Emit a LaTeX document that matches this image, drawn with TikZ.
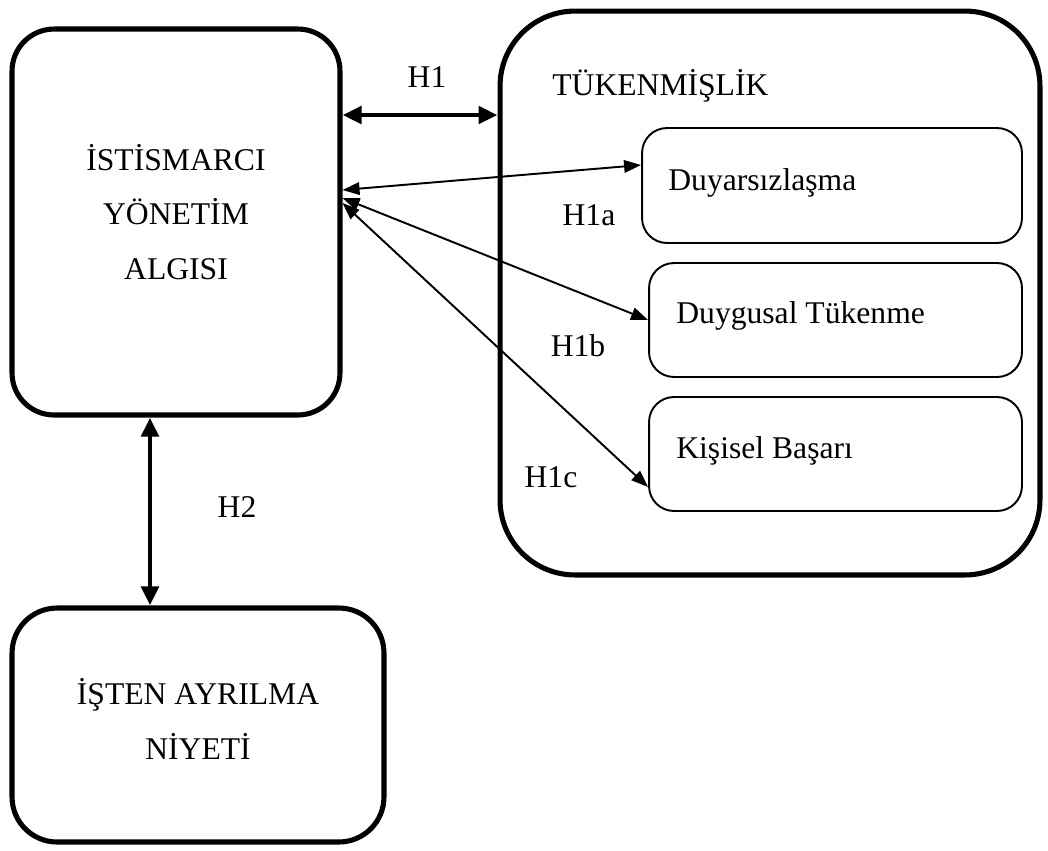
\documentclass[tikz,border=0pt]{standalone}
\usepackage{fontspec}
\setmainfont{Liberation Serif}
\usetikzlibrary{arrows.meta}

\begin{document}
\begin{tikzpicture}[
    x=0.02cm, y=-0.02cm,
    bigbox/.style={
    draw=black,
    line width=2.9pt,
    inner sep=0pt},
    smallbox/.style={
    draw=black,
    line width=1.1pt,
    rounded corners=0.5cm,
    inner sep=0pt,
    minimum width=7.46cm,
    minimum height=2.28cm},
    boxtext/.style={align=center, inner sep=0pt, font=\fontsize{18}{31}\selectfont},
    lbl/.style={inner sep=0pt, font=\fontsize{18}{22}\selectfont},
    thickarrow/.style={{Triangle[length=0.38cm,width=0.34cm]}-{Triangle[length=0.38cm,width=0.34cm]}, line width=2.8pt},
    thinarrow/.style={{Triangle[length=0.34cm,width=0.25cm]}-{Triangle[length=0.34cm,width=0.25cm]}, line width=1.1pt}
    ]
    \useasboundingbox (0,0) rectangle (1048,850);

    \node[bigbox, rounded corners=0.84cm, minimum width=6.56cm, minimum height=7.72cm] (algi) at (176,222) {};
    \node[bigbox, rounded corners=1.5cm, minimum width=10.8cm, minimum height=11.28cm] (tuk) at (770,293) {};
    \node[bigbox, rounded corners=0.9cm, minimum width=7.44cm, minimum height=4.68cm] (niyet) at (198,725) {};

    \node[smallbox, minimum width=7.6cm, minimum height=2.3cm] (duyar) at (832,185.5) {};
    \node[smallbox] (duyg) at (835.5,320) {};
    \node[smallbox] (kisi) at (835.5,454) {};

    \node[boxtext] (algitext) at (176,212) {İSTİSMARCI\\YÖNETİM\\ALGISI};
    \node[boxtext] (niyettext) at (198,719) {İŞTEN AYRILMA\\NİYETİ};
    \node[lbl, anchor=base west] (tuktext) at (552,95) {TÜKENMİŞLİK};
    \node[lbl, anchor=base west] (duyartext) at (668,190) {Duyarsızlaşma};
    \node[lbl, anchor=base west] (duygtext) at (676,323) {Duygusal Tükenme};
    \node[lbl, anchor=base west] (kisitext) at (676,458) {Kişisel Başarı};

    \node[lbl, anchor=base] (h1) at (427,87) {H1};
    \node[lbl, anchor=base] (h1a) at (589,225) {H1a};
    \node[lbl, anchor=base] (h1b) at (578,356) {H1b};
    \node[lbl, anchor=base] (h1c) at (551,487) {H1c};
    \node[lbl, anchor=base] (h2) at (237,517) {H2};

    \coordinate (h1y) at (0,115);
    \coordinate (h2x) at (150,0);
    \draw[thickarrow] (algi.east |- h1y) -- (tuk.west |- h1y);
    \draw[thickarrow] (algi.south -| h2x) -- (niyet.north -| h2x);

    \draw[thinarrow] (algi.east |- 0,190) -- (duyar.west |- 0,165);
    \draw[thinarrow] (algi.east |- 0,198) -- (duyg.west);
    \draw[thinarrow] (algi.east |- 0,203) -- (kisi.west |- 0,487);
\end{tikzpicture}
\end{document}
